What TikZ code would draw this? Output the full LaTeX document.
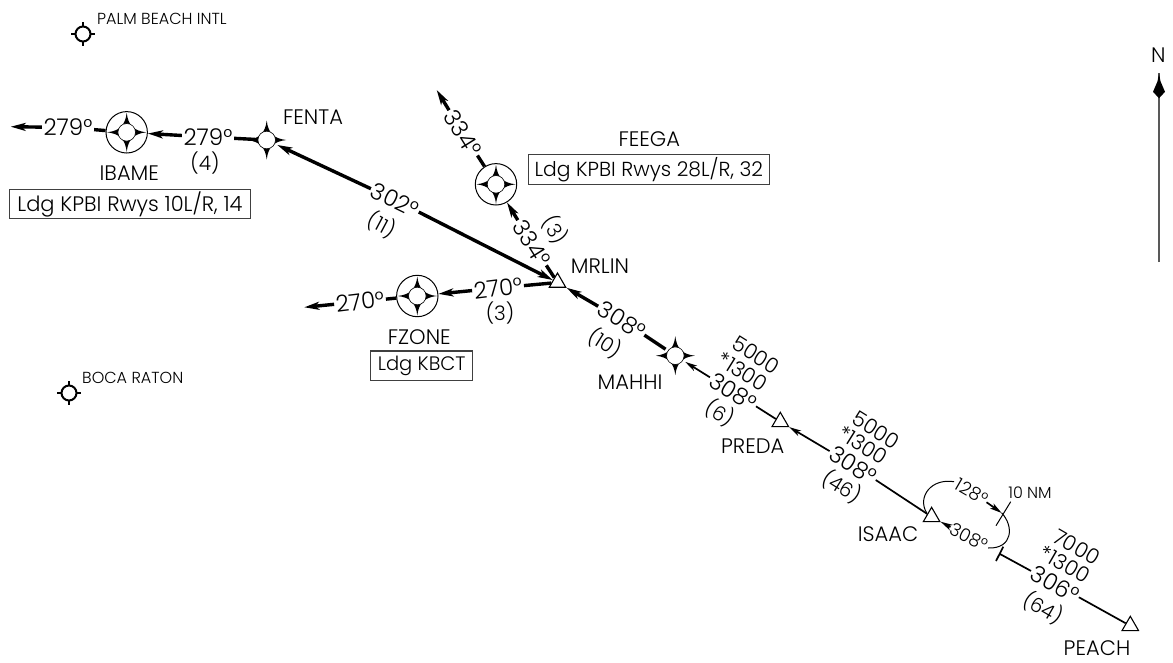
\documentclass[tikz,border=0pt]{standalone}
\usepackage{fontspec}
\setmainfont{Poppins Light}
\usetikzlibrary{arrows.meta,shapes.geometric}
\tikzset{
  heavy/.style={line width=3.4pt,draw=black},
  light/.style={line width=1.7pt,draw=black},
  hair/.style={line width=1pt,draw=black},
  tipped/.style={-{Stealth[length=15pt,width=8pt,inset=4pt]}},
  tippedsmall/.style={-{Stealth[length=12pt,width=6pt,inset=3pt]}},
  fixname/.style={font=\fontsize{21}{22}\selectfont,inner sep=0pt},
  refname/.style={font=\fontsize{16}{17}\selectfont,inner sep=0pt},
  crs/.style={font=\fontsize{23}{24}\selectfont,inner sep=1.5pt},
  dist/.style={font=\fontsize{20}{21}\selectfont,inner sep=0pt},
  alt/.style={font=\fontsize{21}{22}\selectfont,inner sep=0pt},
  holdtxt/.style={font=\fontsize{18}{19}\selectfont,inner sep=1pt},
  infobox/.style={draw=black!75,line width=1.1pt,inner sep=0pt,minimum height=29.5pt,anchor=center},
  ringfix/.style={circle,draw=black,line width=1pt,minimum size=41.4pt,inner sep=0pt},
  plainfix/.style={circle,minimum size=23pt,inner sep=0pt},
  triangfix/.style={regular polygon,regular polygon sides=3,draw=black,line width=1.1pt,minimum size=19pt,inner sep=0pt,fill=white},
  navaid/.style={circle,draw=black,line width=2pt,minimum size=15pt,inner sep=0pt},
}
\newcommand{\fixstar}[1]{%
  \begin{scope}[shift={(#1)}]
  \fill[black] (0,-19.5) .. controls (1.5,-7) and (7,-1.5) .. (19.5,0)
    .. controls (7,1.5) and (1.5,7) .. (0,19.5)
    .. controls (-1.5,7) and (-7,1.5) .. (-19.5,0)
    .. controls (-7,-1.5) and (-1.5,-7) .. cycle;
  \filldraw[fill=white,draw=black,line width=.6pt] (0,0) circle (8.8);
  \end{scope}
}
\newcommand{\navticks}[1]{%
  \draw[line width=2pt] (#1) ++(0,-7.5) -- ++(0,-4.5);
  \draw[line width=2pt] (#1) ++(0,7.5) -- ++(0,4.5);
  \draw[line width=2pt] (#1) ++(-7.5,0) -- ++(-4.5,0);
  \draw[line width=2pt] (#1) ++(7.5,0) -- ++(4.5,0);
}
\begin{document}
\begin{tikzpicture}[x=1pt,y=-1pt]
\useasboundingbox[fill=white] (0,0) rectangle (1173,662);

% navaids
\node[navaid] (palm) at (83,34) {};
\navticks{palm}
\node[refname,anchor=west] (palmtxt) at (97,19) {PALM BEACH INTL};
\node[navaid] (boca) at (69,393) {};
\navticks{boca}
\node[refname,anchor=west] (bocatxt) at (82,378) {BOCA RATON};

% fixes
\node[ringfix] (IBAME) at (126.7,132.3) {};
\node[ringfix] (FEEGA) at (496,184.3) {};
\node[ringfix] (FZONE) at (417.3,296) {};
\node[plainfix] (FENTA) at (266.7,140) {};
\node[plainfix] (MAHHI) at (675.3,355.7) {};
\node[triangfix] (MRLIN) at (557.5,282.5) {};
\node[triangfix] (PREDA) at (780.3,421.8) {};
\node[triangfix] (ISAAC) at (931.6,516.8) {};
\node[triangfix] (PEACH) at (1130.3,625.8) {};

% free ends
\coordinate (outI) at (10.7,126.7);
\coordinate (outF) at (304.3,307.3);
\coordinate (outE) at (436.7,90);
\coordinate (holdA) at (1001.7,513);
\coordinate (holdB) at (988,548);
\coordinate (holdC) at (926.7,513);
\coordinate (holdD) at (954,481.7);
\coordinate (tickAa) at (1010.7,501.7);
\coordinate (tickAb) at (996,525.7);
\coordinate (tickBa) at (1003.3,546.7);
\coordinate (tickBb) at (996,561);
\coordinate (tickB) at (999.6,553.8);

% course labels
\node[crs] (c279o) at (68,127.5) {279°};
\node[crs] (c279i) at (208,137) {279°};
\node[crs,rotate=-26] (c302) at (395,200) {302°};
\node[crs,rotate=7] (c270i) at (498,288) {270°};
\node[crs,rotate=7] (c270o) at (360,301.7) {270°};
\node[crs,rotate=-58] (c334o) at (463,133) {334°};
\node[crs,rotate=-58] (c334i) at (531.7,243) {334°};
\node[crs,rotate=-32] (c308a) at (621.7,320) {308°};
\node[crs,rotate=-32] (c308b) at (733,391.7) {308°};
\node[crs,rotate=-32] (c308c) at (853,465) {308°};
\node[crs,rotate=-30] (c306) at (1055,584) {306°};
\node[holdtxt,rotate=-30] (h128) at (971.7,491.7) {128°};
\node[holdtxt,rotate=-27] (h308) at (969,537.3) {308°};

% distances
\node[dist] (d4) at (205,163) {(4)};
\node[dist,rotate=-28] (d11) at (381.7,225) {(11)};
\node[dist] (d3a) at (500,312.7) {(3)};
\node[dist,rotate=-58] (d3b) at (555,230) {(3)};
\node[dist,rotate=-32] (d10) at (605,343) {(10)};
\node[dist,rotate=-32] (d6) at (720,413) {(6)};
\node[dist,rotate=-32] (d46) at (841.7,486.7) {(46)};
\node[dist,rotate=-30] (d64) at (1043,608) {(64)};

% altitudes
\node[alt,rotate=-32] (a1) at (756,355) {5000};
\node[alt,rotate=-32] (a2) at (742.7,371.7) {*1300};
\node[alt,rotate=-32] (a3) at (876,430) {5000};
\node[alt,rotate=-32] (a4) at (863,445) {*1300};
\node[alt,rotate=-30] (a5) at (1076.7,547.3) {7000};
\node[alt,rotate=-30] (a6) at (1065,564) {*1300};

% connectors
\draw[heavy,tipped] (c279o) -- (outI);
\draw[heavy] (c279o) -- (IBAME);
\draw[heavy,tipped] (c279i) -- (IBAME);
\draw[heavy] (c279i) -- (FENTA);
\draw[heavy,tipped] (c302) -- (FENTA);
\draw[heavy,tipped] (c302) -- (MRLIN);
\draw[heavy,tipped] (c270i) -- (FZONE);
\draw[heavy] (c270i) -- (MRLIN);
\draw[heavy,tipped] (c270o) -- (outF);
\draw[heavy] (c270o) -- (FZONE);
\draw[heavy,tipped] (c334o) -- (outE);
\draw[heavy] (c334o) -- (FEEGA);
\draw[heavy,tipped] (c334i) -- (FEEGA);
\draw[heavy] (c334i) -- (MRLIN);
\draw[heavy,tipped] (c308a) -- (MRLIN);
\draw[heavy] (c308a) -- (MAHHI);
\draw[light,tippedsmall] (c308b) -- (MAHHI);
\draw[light] (c308b) -- (PREDA);
\draw[light,tippedsmall] (c308c) -- (PREDA);
\draw[light] (c308c) -- (ISAAC);
\draw[light] (c306) -- (tickB);
\draw[light] (c306) -- (PEACH);
\draw[light] (tickBa) -- (tickBb);
\draw[hair] (tickAa) -- (tickAb);
\draw[light,tippedsmall] (h128) -- (holdA);
\draw[light,tippedsmall] (h308) -- (ISAAC);
\draw[hair] (holdC) .. controls (917,497) and (931,478) .. (holdD);
\draw[hair] (holdA) .. controls (1014,526) and (1013,549) .. (holdB);

% fix symbols above their connectors
\fixstar{IBAME}
\fixstar{FEEGA}
\fixstar{FZONE}
\fixstar{FENTA}
\fixstar{MAHHI}

% fix names
\node[fixname] (nFENTA) at (313,116.7) {FENTA};
\node[fixname] (nIBAME) at (129.3,173.3) {IBAME};
\node[fixname] (nFEEGA) at (649.3,139.3) {FEEGA};
\node[fixname] (nMRLIN) at (600,265.7) {MRLIN};
\node[fixname] (nFZONE) at (419.3,336.7) {FZONE};
\node[fixname] (nMAHHI) at (630,381.7) {MAHHI};
\node[fixname] (nPREDA) at (752.7,445.7) {PREDA};
\node[fixname] (nISAAC) at (888,534) {ISAAC};
\node[fixname] (nPEACH) at (1097,648.3) {PEACH};
\node[refname] (nm) at (1030,492.3) {10 NM};

% boxes
\node[infobox,minimum width=241.4pt,font=\fontsize{21}{22}\selectfont] (bIBAME) at (130,204) {Ldg KPBI Rwys 10L/R, 14};
\node[infobox,minimum width=241pt,font=\fontsize{20.3}{22}\selectfont] (bFEEGA) at (648.8,169.5) {Ldg KPBI Rwys 28L/R, 32};
\node[infobox,minimum width=102pt,font=\fontsize{19.5}{22}\selectfont] (bFZONE) at (421.7,365.7) {Ldg KBCT};

% north arrow
\node[fixname] (north) at (1158.3,55) {N};
\coordinate (ntop) at (1159,73.3);
\coordinate (nbot) at (1159,262);
\draw[line width=1.3pt,draw=black!65] (nbot) -- (ntop);
\fill[black] (ntop) -- ++(1.5,8) -- ++(4.5,10.5) -- ++(-6,6.5) -- ++(-6,-6.5) -- ++(4.5,-10.5) -- cycle;
\end{tikzpicture}
\end{document}
